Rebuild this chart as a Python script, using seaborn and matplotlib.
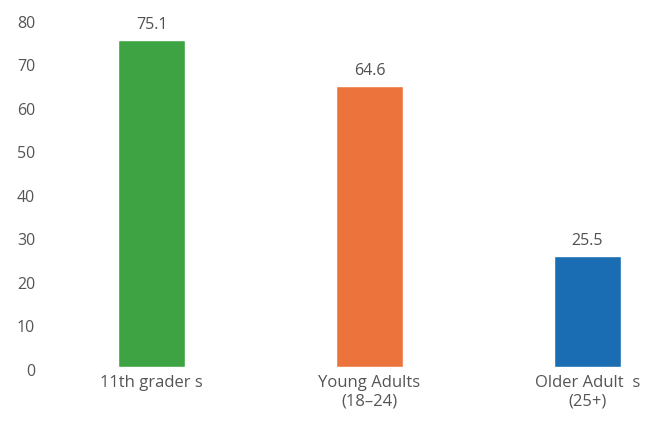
import matplotlib
matplotlib.use("Agg")
import matplotlib.pyplot as plt
import matplotlib.transforms as mtransforms
import seaborn as sns
import pandas as pd

# data
groups = ["11th grader s", "Young Adults\n(18\u201324)", "Older Adult  s\n(25+)"]
values = [75.1, 64.6, 25.5]
colors = ["#3ea443", "#ec743c", "#1b6db3"]
y_ticks = [0, 10, 20, 30, 40, 50, 60, 70, 80]

sns.set_style("white")
plt.rcParams["font.family"] = ["Open Sans", "DejaVu Sans"]

df = pd.DataFrame({"group": groups, "value": values})

fig = plt.figure(figsize=(6.59, 4.21), dpi=100)
ax = fig.add_axes([0.068, 0.1283, 0.926, 0.848])

sns.barplot(data=df, x="group", y="value", hue="group", palette=colors,
            width=0.31, legend=False, ax=ax, saturation=1)

# value labels on top of the bars
for cont in ax.containers:
    ax.bar_label(cont, fmt="%.1f", padding=5, fontsize=11.5, color="#505050")

ax.set_ylim(0, 82)
ax.set_xlim(-0.49, 2.31)
ax.set_yticks(y_ticks)
ax.set_xlabel("")
ax.set_ylabel("")
ax.tick_params(axis="both", length=0, labelcolor="#555555")
ax.tick_params(axis="y", pad=7, labelsize=11.5)
ax.tick_params(axis="x", pad=6, labelsize=12)
sns.despine(ax=ax, left=True, bottom=True)

# y tick labels sit a little lower than the bar scale in the original
shift = mtransforms.ScaledTranslation(0, -3 / 100, fig.dpi_scale_trans)
for lab in ax.get_yticklabels():
    lab.set_transform(lab.get_transform() + shift)

fig.savefig("out.png", dpi=100)
